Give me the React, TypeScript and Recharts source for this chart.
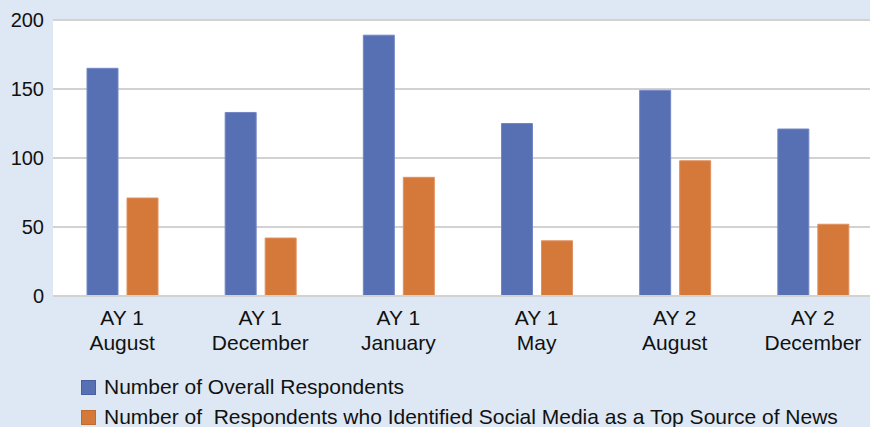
import React from "react";
import { BarChart, Bar, XAxis, YAxis, CartesianGrid } from "recharts";

const years = ["AY 1", "AY 1", "AY 1", "AY 1", "AY 2", "AY 2"];
const months = ["August", "December", "January", "May", "August", "December"];
const overall = [165, 133, 189, 125, 149, 121];
const social = [71, 42, 86, 40, 98, 52];
const yTicks = [0, 50, 100, 150, 200];
const seriesNames = [
  "Number of Overall Respondents",
  "Number of  Respondents who Identified Social Media as a Top Source of News",
];

const BLUE = "#5770b4";
const ORANGE = "#d5793a";
const BG = "#dde8f4";
const FONT = "'Liberation Sans', Arial, Helvetica, sans-serif";

const data = years.map((y, i) => ({
  key: `${y} ${months[i]} ${i}`,
  overall: overall[i],
  social: social[i],
}));

const XTick = (props: any) => {
  const { x, y, index } = props;
  return (
    <g>
      <text x={x} y={y + 29} textAnchor="middle" fontSize={21} fill="#111" fontFamily={FONT}>
        {years[index]}
      </text>
      <text x={x} y={y + 54} textAnchor="middle" fontSize={21} fill="#111" fontFamily={FONT}>
        {months[index]}
      </text>
    </g>
  );
};

const LegendBlock = () => (
  <div style={{ position: "absolute", left: 81, top: 372, fontFamily: FONT, fontSize: 21, color: "#111" }}>
    {seriesNames.map((n, i) => (
      <div key={n} style={{ display: "flex", alignItems: "center", height: 30, whiteSpace: "pre" }}>
        <span
          style={{
            display: "inline-block",
            width: 13,
            height: 13,
            background: i === 0 ? BLUE : ORANGE,
            border: `1px solid ${i === 0 ? "#4a5fa0" : "#c06a30"}`,
            marginRight: 8,
          }}
        />
        <span>{n}</span>
      </div>
    ))}
  </div>
);

export default function App() {
  return (
    <div style={{ position: "fixed", left: 0, top: 0, width: 870, height: 427, overflow: "hidden", background: BG }}>
      <BarChart
        width={882}
        height={427}
        data={data}
        margin={{ top: 20, right: 0, bottom: 71, left: 0 }}
        barCategoryGap="24%"
        barGap={9}
      >
        <CartesianGrid vertical={false} stroke="#d2d2d2" strokeWidth={2} fill="#ffffff" />
        <XAxis
          dataKey="key"
          axisLine={{ stroke: "#d2d2d2", strokeWidth: 2 }}
          tickLine={false}
          tickSize={0}
          tickMargin={0}
          tick={<XTick />}
          interval={0}
          height={60}
        />
        <YAxis
          domain={[0, 200]}
          ticks={yTicks}
          width={53}
          axisLine={false}
          tickLine={false}
          tickSize={0}
          tickMargin={9}
          tick={{ fontSize: 20, fill: "#111", fontFamily: FONT }}
        />
        <Bar dataKey="overall" fill={BLUE} stroke="#7286c4" strokeWidth={1} barSize={31} isAnimationActive={false} />
        <Bar dataKey="social" fill={ORANGE} stroke="#e09060" strokeWidth={1} barSize={31} isAnimationActive={false} />
      </BarChart>
      <LegendBlock />
    </div>
  );
}
